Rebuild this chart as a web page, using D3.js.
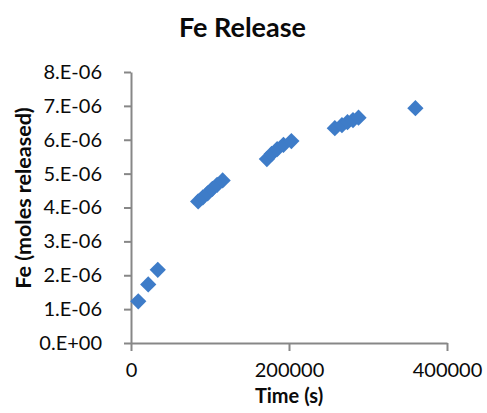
<!DOCTYPE html>
<html>
<head>
<meta charset="utf-8">
<script src="https://cdn.jsdelivr.net/npm/d3@7"></script>
<style>
  html, body { margin: 0; padding: 0; background: #fff; }
  svg { display: block; }
</style>
</head>
<body>
<svg id="chart" width="487" height="413"></svg>
<script>
// Fe release measurements: elapsed time (s) and cumulative Fe (moles)
const timeS = [9200, 21800, 33900,
               85000, 91000, 97000, 103000, 109000, 116000,
               172000, 178000, 185000, 193000, 203000,
               258000, 267000, 274000, 281000, 288000,
               360000];
const feMoles = [1.23e-6, 1.73e-6, 2.16e-6,
                 4.18e-6, 4.30e-6, 4.42e-6, 4.55e-6, 4.67e-6, 4.80e-6,
                 5.43e-6, 5.58e-6, 5.72e-6, 5.85e-6, 5.96e-6,
                 6.34e-6, 6.43e-6, 6.52e-6, 6.58e-6, 6.65e-6,
                 6.93e-6];
const xTicks = [0, 200000, 400000];
const yTicks = [0, 1e-6, 2e-6, 3e-6, 4e-6, 5e-6, 6e-6, 7e-6, 8e-6];

const chartTitle = "Fe Release";
const xTitle = "Time (s)";
const yTitle = "Fe (moles released)";

const W = 487, H = 413;
const margin = { left: 131, right: 40, top: 72, bottom: 70 };
const FONT = "Lato, 'Open Sans', sans-serif";
const AXIS_COLOR = "#878787";
const MARK_COLOR = "#3e7cc8";

const svg = d3.select("#chart");

const x = d3.scaleLinear().domain([0, 400000]).range([margin.left, W - margin.right]);
const y = d3.scaleLinear().domain([0, 8e-6]).range([H - margin.bottom, margin.top]);

// Excel-style scientific labels, e.g. 8.E-06, 0.E+00
function sciLabel(v) {
  if (v === 0) return "0.E+00";
  const e = Math.floor(Math.log10(Math.abs(v)) + 1e-9);
  const m = Math.round(v / Math.pow(10, e));
  const sign = e < 0 ? "-" : "+";
  return m + ".E" + sign + String(Math.abs(e)).padStart(2, "0");
}

// Y axis
const yAxis = svg.append("g")
  .attr("transform", `translate(${margin.left},0)`)
  .call(d3.axisLeft(y).tickValues(yTicks).tickFormat(sciLabel)
    .tickSizeInner(7).tickSizeOuter(0).tickPadding(22));

// X axis
const xAxis = svg.append("g")
  .attr("transform", `translate(0,${H - margin.bottom})`)
  .call(d3.axisBottom(x).tickValues(xTicks).tickFormat(d3.format("d"))
    .tickSizeInner(8).tickSizeOuter(0).tickPadding(12));

[yAxis, xAxis].forEach(g => {
  g.select(".domain").attr("stroke", AXIS_COLOR).attr("stroke-width", 2);
  g.selectAll(".tick line").attr("stroke", AXIS_COLOR).attr("stroke-width", 2);
  g.selectAll(".tick text")
    .attr("fill", "#0a0a0a")
    .style("font-family", FONT)
    .style("font-size", "20px");
});

// Markers: diamonds (rotated squares)
const diamond = d3.symbol().type(d3.symbolSquare).size(132);
svg.append("g")
  .selectAll("path")
  .data(timeS.map((t, i) => ({ t, fe: feMoles[i] })))
  .join("path")
  .attr("d", diamond)
  .attr("transform", d => `translate(${x(d.t)},${y(d.fe)}) rotate(45)`)
  .attr("fill", MARK_COLOR);

// Titles
svg.append("text")
  .attr("x", W / 2 - 1)
  .attr("y", 37)
  .attr("text-anchor", "middle")
  .style("font-family", FONT)
  .style("font-weight", "bold")
  .style("font-size", "27px")
  .attr("fill", "#0a0a0a")
  .text(chartTitle);

svg.append("text")
  .attr("x", (x.range()[0] + x.range()[1]) / 2)
  .attr("y", 403)
  .attr("text-anchor", "middle")
  .style("font-family", FONT)
  .style("font-weight", "bold")
  .style("font-size", "20px")
  .attr("fill", "#0a0a0a")
  .text(xTitle);

svg.append("text")
  .attr("transform", "translate(31,198) rotate(-90)")
  .attr("text-anchor", "middle")
  .style("font-family", FONT)
  .style("font-weight", "bold")
  .style("font-size", "21.5px")
  .attr("fill", "#0a0a0a")
  .text(yTitle);
</script>
</body>
</html>
